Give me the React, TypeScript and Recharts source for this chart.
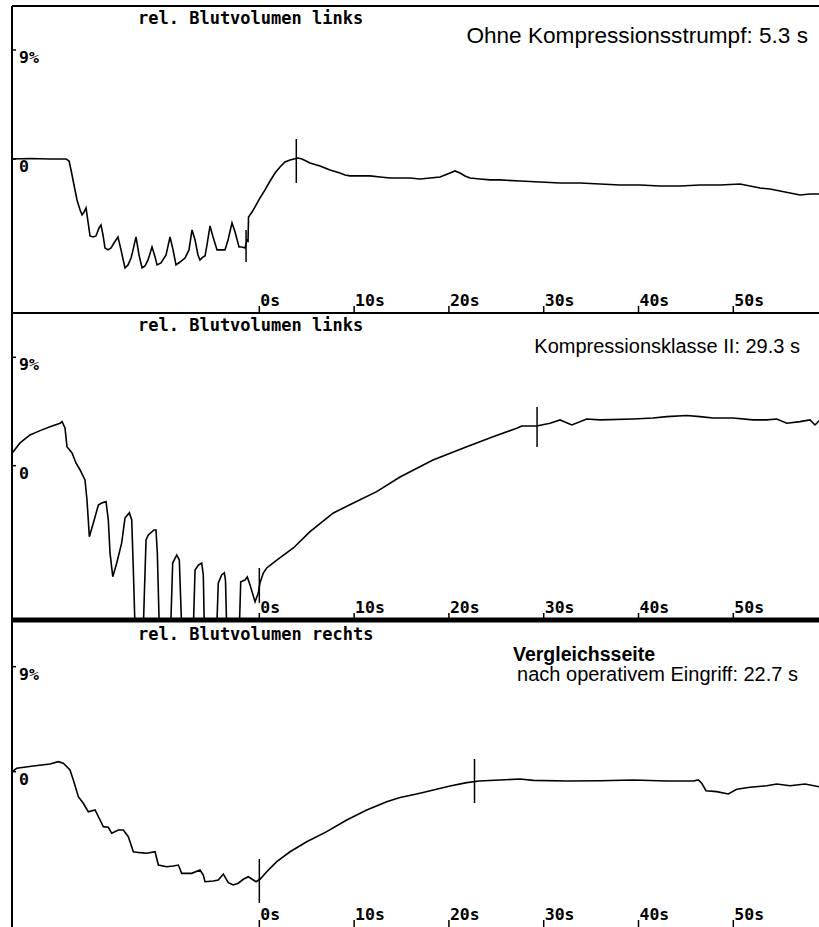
import { LineChart, Line, XAxis, YAxis, ReferenceLine } from "recharts";

type Pair = [number, number];

// time axis (s) and level axis (% rel. blood volume)
const timeDomain: [number, number] = [-26.09, 59.04];
const timeTicks = [0, 10, 20, 30, 40, 50];
const timeTickLabels = ["0s", "10s", "20s", "30s", "40s", "50s"];
const levelTicks = [0, 9];
const levelTickLabels = ["0", "9%"];

const panelTitles = [
  "rel. Blutvolumen links",
  "rel. Blutvolumen links",
  "rel. Blutvolumen rechts",
];

// refill time: start marker and refill duration per recording
const refillStart = [-1.4, 0, 0];
const refillSeconds = [5.3, 29.3, 22.7];
// vertical extent [from, to] of the start / end markers in %
const startMarkerSpan: Pair[] = [
  [-5.86, -8.51],
  [-8.5, -11.4],
  [-7.48, -11.25],
];
const endMarkerSpan: Pair[] = [
  [1.65, -1.98],
  [4.88, 1.55],
  [1.09, -2.68],
];

// [t (s), level (%)]
const leftBare: Pair[] = [
  [-26.09, 0], [-24.19, 0.04], [-22.08, 0], [-20.39, 0], [-20.07, -0.17], [-19.86, -0.91],
  [-19.55, -2.15], [-19.23, -3.39], [-18.91, -4.21], [-18.7, -4.62], [-18.49, -4.38], [-18.28, -4.05],
  [-18.07, -5.2], [-17.86, -6.36], [-17.54, -6.44], [-17.23, -6.36], [-16.91, -5.7], [-16.7, -5.45],
  [-16.49, -6.28], [-16.28, -7.35], [-15.96, -7.51], [-15.64, -7.35], [-15.33, -6.94], [-14.91, -6.44],
  [-14.59, -7.51], [-14.17, -9.0], [-13.85, -8.75], [-13.53, -8.18], [-13.32, -7.51], [-13.01, -6.44],
  [-12.69, -7.93], [-12.37, -9.0], [-12.06, -8.84], [-11.74, -8.34], [-11.32, -7.27], [-11.0, -8.09],
  [-10.79, -8.75], [-10.37, -8.59], [-9.84, -7.93], [-9.42, -6.44], [-9.1, -7.51], [-8.79, -8.75],
  [-8.37, -8.51], [-7.84, -8.18], [-7.42, -7.51], [-7.1, -5.86], [-6.78, -6.69], [-6.47, -7.93],
  [-6.26, -8.34], [-5.94, -8.09], [-5.73, -8.01], [-5.52, -7.1], [-5.2, -5.53], [-4.88, -6.44],
  [-4.46, -7.51], [-4.04, -7.51], [-3.62, -7.51], [-3.3, -6.69], [-2.88, -5.28], [-2.56, -6.03],
  [-2.14, -7.27], [-1.83, -7.27], [-1.51, -7.35], [-1.3, -6.69], [-1.19, -6.77], [-1.14, -4.79],
  [-0.77, -4.38], [-0.45, -3.96], [0.07, -3.22], [0.6, -2.56], [1.13, -1.82], [1.66, -1.16],
  [2.18, -0.66], [2.71, -0.25], [3.24, -0.08], [3.66, 0], [4.08, 0.08], [4.5, 0], [4.93, -0.17],
  [5.35, -0.33], [6.4, -0.58], [7.46, -0.91], [8.51, -1.16], [9.04, -1.32], [9.57, -1.4],
  [10.62, -1.4], [11.68, -1.4], [12.73, -1.49], [13.79, -1.57], [14.84, -1.57], [15.9, -1.57],
  [16.95, -1.65], [18.01, -1.57], [19.06, -1.49], [20.12, -1.16], [20.64, -0.99], [21.17, -1.16],
  [21.7, -1.4], [22.23, -1.57], [23.28, -1.65], [24.34, -1.73], [25.39, -1.73], [27.5, -1.82],
  [29.61, -1.9], [31.72, -1.98], [33.83, -1.98], [35.94, -2.07], [38.05, -2.15], [40.16, -2.15],
  [42.27, -2.23], [44.38, -2.23], [46.49, -2.15], [48.6, -2.15], [50.71, -2.07], [51.76, -2.23],
  [52.82, -2.4], [53.87, -2.48], [54.93, -2.64], [55.98, -2.81], [57.04, -2.97], [58.09, -2.89],
  [59.04, -2.89],
];

const leftStocking: Pair[] = [
  [-26.09, 1.03], [-25.24, 1.89], [-24.19, 2.55], [-23.13, 2.91], [-22.08, 3.24], [-21.02, 3.52],
  [-20.81, 3.66], [-20.5, 3.13], [-20.29, 1.58], [-19.76, 1.06], [-19.34, 0.22], [-18.91, -0.36],
  [-18.39, -1.19], [-18.18, -2.85], [-17.93, -5.9], [-17.51, -4.76], [-16.98, -3.27], [-16.63, -3.1],
  [-16.17, -2.99], [-15.93, -4.51], [-15.75, -7.25], [-15.46, -9.22], [-15.04, -8.09], [-14.52, -6.42],
  [-14.17, -4.35], [-13.71, -3.91], [-13.46, -4.51], [-13.29, -8.67], [-13.11, -13.5], [-12.24, -13.5],
  [-11.95, -6.17], [-11.71, -5.76], [-11.11, -5.34], [-10.9, -5.34], [-10.76, -7.25], [-10.55, -13.5],
  [-9.35, -13.5], [-9.14, -8.09], [-8.71, -7.42], [-8.44, -7.84], [-8.19, -13.5], [-6.96, -13.5],
  [-6.78, -8.67], [-6.43, -8.25], [-6.08, -8.09], [-5.91, -9.08], [-5.8, -13.5], [-4.49, -13.5],
  [-4.33, -9.75], [-3.97, -9.08], [-3.69, -8.89], [-3.57, -9.5], [-3.44, -13.5], [-2.11, -13.5],
  [-1.96, -9.64], [-1.51, -9.5], [-1.27, -9.25], [-0.98, -9.91], [-0.45, -11.3], [-0.11, -10.58],
  [0.07, -9.75], [0.42, -8.92], [0.78, -8.5], [1.84, -7.84], [3.59, -6.84], [5.35, -5.48],
  [7.81, -3.93], [9.92, -3.1], [12.38, -2.16], [14.84, -0.94], [18.32, 0.47], [21.88, 1.58],
  [24.65, 2.41], [27.15, 3.11], [27.68, 3.3], [29.26, 3.3], [30.67, 3.52], [31.72, 3.8],
  [32.96, 3.38], [34.54, 3.88], [35.94, 3.8], [39.45, 3.88], [41.53, 3.96], [42.98, 4.07],
  [45.09, 4.16], [46.49, 4.07], [47.86, 3.96], [49.97, 3.96], [52.08, 3.8], [53.53, 3.8],
  [54.58, 3.88], [55.64, 3.52], [57.04, 3.66], [58.09, 3.8], [58.62, 3.38], [59.04, 3.72],
];

const rightOperated: Pair[] = [
  [-26.09, 0], [-25.59, 0.29], [-23.84, 0.49], [-22.08, 0.66], [-21.2, 0.86], [-20.68, 0.72],
  [-19.97, 0.15], [-19.62, -0.71], [-19.09, -2.14], [-18.57, -2.71], [-18.04, -3.43], [-17.33, -3.28],
  [-16.8, -4.14], [-16.46, -4.71], [-15.93, -4.76], [-15.57, -5.28], [-14.87, -5.0], [-14.35, -5.0],
  [-13.82, -5.57], [-13.29, -6.86], [-12.58, -6.94], [-11.88, -6.99], [-11.0, -6.86], [-10.65, -8.0],
  [-9.77, -8.14], [-9.07, -8.08], [-8.54, -8.0], [-8.19, -8.71], [-7.13, -8.71], [-6.26, -8.42],
  [-5.91, -8.85], [-5.73, -9.43], [-4.85, -9.37], [-4.33, -9.28], [-3.8, -8.77], [-3.27, -9.51],
  [-2.74, -9.71], [-2.22, -9.56], [-1.69, -9.22], [-1.16, -9.0], [-0.63, -9.28], [-0.35, -9.43],
  [0.07, -9.22], [0.78, -8.57], [1.84, -7.71], [3.24, -6.86], [5.0, -6.0], [7.11, -5.14],
  [9.22, -4.14], [11.33, -3.28], [13.44, -2.57], [14.84, -2.21], [16.6, -1.91], [18.36, -1.57],
  [20.12, -1.23], [21.88, -0.94], [23.18, -0.8], [25.39, -0.71], [27.5, -0.63], [28.9, -0.74],
  [32.43, -0.8], [35.94, -0.77], [39.45, -0.71], [42.98, -0.8], [45.78, -0.8], [46.31, -0.71],
  [46.67, -0.99], [47.12, -1.63], [48.25, -1.71], [49.47, -1.91], [50.36, -1.51], [51.76, -1.34],
  [53.53, -1.2], [54.58, -1.05], [55.98, -1.2], [57.57, -1.05], [59.04, -1.29],
];

const MONO = "'DejaVu Sans Mono', monospace";
const SANS = "'Liberation Sans', Arial, sans-serif";

function TimeTick(props: any) {
  const { x, y, payload } = props;
  const label = timeTickLabels[timeTicks.indexOf(payload.value)];
  return (
    <g>
      <line x1={x} y1={y} x2={x} y2={y - 7} stroke="#000" strokeWidth={1.5} />
      <text x={x + 1} y={y - 7} fontFamily={MONO} fontWeight="bold" fontSize={16.5} fill="#000">
        {label}
      </text>
    </g>
  );
}

function LevelTick(props: any) {
  const { x, y, payload } = props;
  const label = levelTickLabels[levelTicks.indexOf(payload.value)];
  return (
    <g>
      <line x1={x} y1={y} x2={x + 4} y2={y} stroke="#000" strokeWidth={1.5} />
      <text x={x + 7} y={y + 13} fontFamily={MONO} fontWeight="bold" fontSize={16.5} fill="#000">
        {label}
      </text>
    </g>
  );
}

interface PanelProps {
  index: number;
  top: number;
  height: number;
  marginTop: number;
  marginBottom: number;
  yDomain: [number, number];
  trace: Pair[];
  axisWidth: number;
  showAxis: boolean;
  frameTop?: boolean;
}

function Panel({
  index,
  top,
  height,
  marginTop,
  marginBottom,
  yDomain,
  trace,
  axisWidth,
  showAxis,
  frameTop,
}: PanelProps) {
  const points = trace.map(([t, v]) => ({ t, v }));
  const t0 = refillStart[index];
  const t1 = t0 + refillSeconds[index];
  const s0 = startMarkerSpan[index];
  const s1 = endMarkerSpan[index];
  return (
    <div style={{ position: "absolute", left: 0, top }}>
      {/* axes get 1px of room: a zero-sized axis is not rendered */}
      <LineChart
        width={819}
        height={height}
        data={points}
        margin={{ top: marginTop, right: 0, bottom: marginBottom - 1, left: 11 }}
      >
        <XAxis
          dataKey="t"
          type="number"
          domain={timeDomain}
          ticks={timeTicks}
          interval={0}
          height={1}
          tickSize={0}
          tickMargin={0}
          tickLine={false}
          axisLine={showAxis ? { stroke: "#000", strokeWidth: axisWidth } : false}
          tick={<TimeTick />}
          allowDataOverflow
        />
        <YAxis
          type="number"
          domain={yDomain}
          ticks={levelTicks}
          interval={0}
          width={1}
          tickSize={0}
          tickMargin={0}
          tickLine={false}
          axisLine={{ stroke: "#000", strokeWidth: 2 }}
          tick={<LevelTick />}
          allowDataOverflow
        />
        {frameTop && (
          <ReferenceLine y={yDomain[1]} stroke="#000" strokeWidth={2} ifOverflow="visible" />
        )}
        <Line
          dataKey="v"
          type="linear"
          stroke="#000"
          strokeWidth={1.6}
          dot={false}
          isAnimationActive={false}
        />
        <ReferenceLine
          segment={[
            { x: t0, y: s0[0] },
            { x: t0, y: s0[1] },
          ]}
          stroke="#000"
          strokeWidth={1.5}
          ifOverflow="visible"
        />
        <ReferenceLine
          segment={[
            { x: t1, y: s1[0] },
            { x: t1, y: s1[1] },
          ]}
          stroke="#000"
          strokeWidth={1.5}
          ifOverflow="visible"
        />
      </LineChart>
    </div>
  );
}

export default function App() {
  return (
    <div
      style={{
        position: "absolute",
        left: 0,
        top: 0,
        width: 819,
        height: 927,
        background: "#fff",
        overflow: "hidden",
      }}
    >
      <Panel
        index={0}
        top={0}
        height={316}
        marginTop={6}
        marginBottom={3}
        yDomain={[-12.72, 12.63]}
        trace={leftBare}
        axisWidth={2}
        showAxis
        frameTop
      />
      <Panel
        index={1}
        top={310}
        height={314}
        marginTop={3}
        marginBottom={4}
        yDomain={[-12.82, 12.68]}
        trace={leftStocking}
        axisWidth={5}
        showAxis
      />
      <Panel
        index={2}
        top={617}
        height={311}
        marginTop={3}
        marginBottom={1}
        yDomain={[-13.31, 13.0]}
        trace={rightOperated}
        axisWidth={2}
        showAxis={false}
      />
      <svg
        width={819}
        height={927}
        style={{ position: "absolute", left: 0, top: 0, pointerEvents: "none" }}
      >
        <g fontFamily={MONO} fontWeight="bold" fontSize={17} fill="#000">
          <text x={138} y={24}>{panelTitles[0]}</text>
          <text x={138} y={331}>{panelTitles[1]}</text>
          <text x={138} y={640}>{panelTitles[2]}</text>
        </g>
        <g fontFamily={SANS} fill="#000">
          <text x={808} y={43} fontSize={22.6} textAnchor="end">
            Ohne Kompressionsstrumpf: {refillSeconds[0]} s
          </text>
          <text x={800} y={353} fontSize={20} textAnchor="end">
            Kompressionsklasse II: {refillSeconds[1]} s
          </text>
          <text x={513} y={661} fontSize={19.5} fontWeight="bold">
            Vergleichsseite
          </text>
          <text x={798} y={681} fontSize={20} textAnchor="end">
            nach operativem Eingriff: {refillSeconds[2]} s
          </text>
        </g>
      </svg>
    </div>
  );
}
